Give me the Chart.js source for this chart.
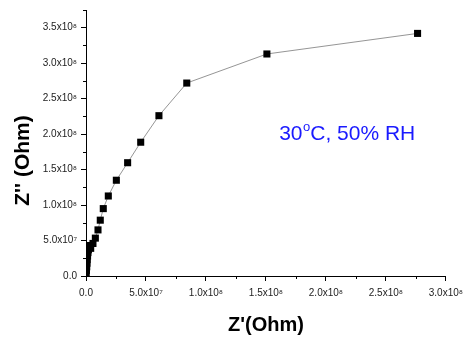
<!DOCTYPE html>
<html>
<head>
<meta charset="utf-8">
<script src="https://cdn.jsdelivr.net/npm/chart.js"></script>
<style>
  html, body { margin: 0; padding: 0; background: #fff; }
</style>
</head>
<body>
<canvas id="myChart" width="469" height="343"></canvas>
<script>
// Nyquist data, Z' and Z'' in Ohm
const zReal = [0.2e6, 0.4e6, 0.6e6, 0.8e6, 1.0e6, 1.3e6, 1.6e6, 2.0e6, 2.5e6, 3.1e6, 3.9e6,
               5.8e6, 7.8e6, 1.0e7, 1.19e7, 1.44e7, 1.86e7, 2.53e7, 3.47e7, 4.56e7,
               6.08e7, 8.4e7, 1.508e8, 2.764e8];
const zImag = [0.3e7, 0.8e7, 1.3e7, 1.8e7, 2.3e7, 2.8e7, 3.3e7, 3.7e7, 4.1e7, 4.3e7, 3.9e7,
               4.59e7, 5.34e7, 6.5e7, 7.87e7, 9.5e7, 1.128e8, 1.35e8, 1.597e8, 1.886e8,
               2.26e8, 2.72e8, 3.13e8, 3.42e8];

const xTicks = [0, 5e7, 1e8, 1.5e8, 2e8, 2.5e8, 3e8];
const xTickLabels = ['0.0', '5.0x10⁷', '1.0x10⁸', '1.5x10⁸', '2.0x10⁸', '2.5x10⁸', '3.0x10⁸'];
const yTicks = [0, 5e7, 1e8, 1.5e8, 2e8, 2.5e8, 3e8, 3.5e8];
const yTickLabels = ['0.0', '5.0x10⁷', '1.0x10⁸', '1.5x10⁸', '2.0x10⁸', '2.5x10⁸', '3.0x10⁸', '3.5x10⁸'];

const noteParts = ['30', 'o', 'C, 50% RH'];
const noteAt = [1.61e8, 1.92e8];

const FONT = "'Liberation Sans', Arial, sans-serif";

// minor ticks half way between the major ones
const minorTicks = {
  id: 'minorTicks',
  afterDraw(chart) {
    const c = chart.ctx;
    const xs = chart.scales.x, ys = chart.scales.y;
    const area = chart.chartArea;
    c.save();
    c.strokeStyle = '#000';
    c.lineWidth = 1;
    c.beginPath();
    for (let i = 0; i < xTicks.length - 1; i++) {
      const px = Math.round(xs.getPixelForValue((xTicks[i] + xTicks[i + 1]) / 2)) + 0.5;
      c.moveTo(px, area.bottom);
      c.lineTo(px, area.bottom + 3);
    }
    const ymid = [];
    for (let i = 0; i < yTicks.length - 1; i++) ymid.push((yTicks[i] + yTicks[i + 1]) / 2);
    ymid.push(yTicks[yTicks.length - 1] + (yTicks[1] - yTicks[0]) / 2);
    ymid.forEach(v => {
      const py = Math.round(ys.getPixelForValue(v)) + 0.5;
      c.moveTo(area.left - 3, py);
      c.lineTo(area.left, py);
    });
    c.stroke();
    c.restore();
  }
};

const note = {
  id: 'note',
  afterDatasetsDraw(chart) {
    const c = chart.ctx;
    let px = chart.scales.x.getPixelForValue(noteAt[0]);
    const py = chart.scales.y.getPixelForValue(noteAt[1]);
    c.save();
    c.fillStyle = '#1a1aff';
    c.textBaseline = 'alphabetic';
    c.font = '21px ' + FONT;
    c.fillText(noteParts[0], px, py);
    px += c.measureText(noteParts[0]).width + 0.5;
    c.font = '13px ' + FONT;
    c.fillText(noteParts[1], px, py - 9);
    px += c.measureText(noteParts[1]).width;
    c.font = '21px ' + FONT;
    c.fillText(noteParts[2], px, py);
    c.restore();
  }
};

const ctx = document.getElementById('myChart');

new Chart(ctx, {
  type: 'scatter',
  data: {
    datasets: [{
      data: zReal.map((x, i) => ({ x: x, y: zImag[i] })),
      showLine: true,
      borderColor: '#7a7a7a',
      borderWidth: 0.8,
      pointStyle: 'rect',
      pointRadius: 5,
      pointBackgroundColor: '#000',
      pointBorderColor: '#000',
      pointBorderWidth: 0
    }]
  },
  options: {
    responsive: false,
    animation: false,
    layout: { padding: { top: 9, right: 22, left: 0, bottom: 0 } },
    plugins: { legend: { display: false }, tooltip: { enabled: false } },
    scales: {
      x: {
        type: 'linear',
        min: 0,
        max: 3e8,
        afterBuildTicks: s => { s.ticks = xTicks.map(v => ({ value: v })); },
        afterFit: s => { s.height = 67; },
        ticks: {
          callback: v => xTickLabels[xTicks.indexOf(v)],
          font: { size: 10, family: FONT },
          color: '#222',
          padding: 6,
          maxRotation: 0,
          autoSkip: false
        },
        grid: { drawOnChartArea: false, tickLength: 5, color: '#000' },
        border: { color: '#000', width: 1 },
        title: {
          display: true,
          text: "Z'(Ohm)",
          color: '#000',
          font: { size: 20, weight: 'bold', family: FONT },
          padding: { top: 0, bottom: 6 }
        }
      },
      y: {
        type: 'linear',
        min: 0,
        max: 3.75e8,
        afterBuildTicks: s => { s.ticks = yTicks.map(v => ({ value: v })); },
        afterFit: s => { s.width = 86; },
        ticks: {
          callback: v => yTickLabels[yTicks.indexOf(v)],
          font: { size: 10, family: FONT },
          color: '#222',
          padding: 4,
          autoSkip: false
        },
        grid: { drawOnChartArea: false, tickLength: 5, color: '#000' },
        border: { color: '#000', width: 1 },
        title: {
          display: true,
          // trailing spaces push the label a bit below the axis middle, as in the original
          text: "Z'' (Ohm)      ",
          color: '#000',
          font: { size: 21, weight: 'bold', family: FONT },
          padding: { top: 11, bottom: 0 }
        }
      }
    }
  },
  plugins: [minorTicks, note]
});
</script>
</body>
</html>
